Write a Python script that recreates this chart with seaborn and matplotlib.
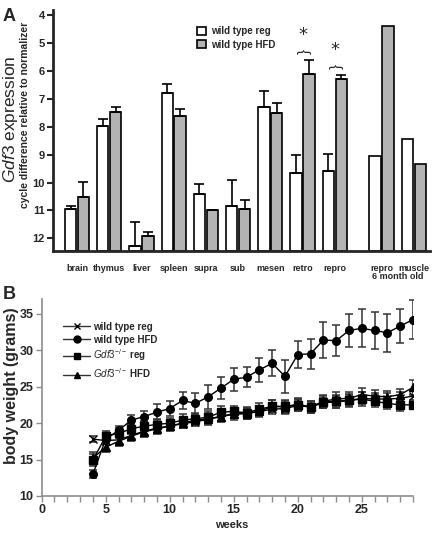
import numpy as np
import pandas as pd
import seaborn as sns
import matplotlib.pyplot as plt
from matplotlib.patches import Patch
from matplotlib.lines import Line2D
from matplotlib.ticker import MultipleLocator

# Panel A data: Gdf3 expression (cycle difference, lower = more expression)
tissues = ["brain", "thymus", "liver", "spleen", "supra", "sub", "mesen",
           "retro", "repro", "repro", "muscle"]
tissue_pos = [0, 1, 2, 3, 4, 5, 6, 7, 8, 9.45, 10.45]
reg = [10.93, 7.98, 12.27, 6.78, 10.40, 10.85, 7.28, 9.64, 9.57, 9.06, 8.45]
reg_err = [0.08, 0.25, 0.87, 0.33, 0.35, 0.95, 0.55, 0.64, 0.61, 0, 0]
hfd = [10.50, 7.48, 11.90, 7.60, 11.00, 10.93, 7.50, 6.10, 6.29, 4.39, 9.35]
hfd_err = [0.53, 0.18, 0.12, 0.25, 0.02, 0.29, 0.37, 0.50, 0.15, 0, 0]
signif = ["retro", "repro"]

# Panel B data: body weight (grams) by week
weeks = list(range(4, 30))
wt_reg = [17.8, 17.6, 17.7, 18.3, 18.9, 19.3, 19.6, 19.9, 20.2, 20.5, 20.9, 21.3, 21.4,
          21.6, 21.9, 22.0, 22.4, 22.2, 22.8, 22.9, 23.1, 23.4, 23.3, 23.3, 23.4, 23.7]
wt_reg_err = [0.4, 0.5, 0.6, 0.6, 0.6, 0.6, 0.6, 0.6, 0.6, 0.6, 0.6, 0.6, 0.6,
              0.6, 0.7, 0.7, 0.7, 0.7, 0.7, 0.8, 0.8, 0.8, 0.8, 0.8, 0.8, 0.8]
wt_hfd = [13.0, 17.8, 19.0, 20.4, 20.9, 21.5, 22.0, 23.1, 22.7, 23.6, 24.8, 26.0, 26.3,
          27.3, 28.2, 26.4, 29.4, 29.5, 31.4, 31.3, 32.7, 33.0, 32.7, 32.4, 33.3, 34.2]
wt_hfd_err = [0.6, 0.5, 0.6, 0.7, 0.8, 1.1, 1.0, 1.2, 1.4, 1.6, 1.5, 1.6, 1.4,
              1.6, 1.8, 2.3, 1.9, 2.1, 2.5, 2.1, 2.3, 2.6, 2.6, 2.6, 2.3, 2.7]
ko_reg = [14.9, 18.2, 18.6, 19.2, 19.6, 19.8, 20.0, 20.4, 20.6, 20.8, 21.5, 21.6, 21.4,
          21.9, 22.3, 22.3, 22.5, 22.2, 22.9, 23.0, 23.1, 23.3, 23.0, 22.7, 22.5, 22.5]
ko_reg_err = [0.8, 0.7, 0.7, 0.7, 0.7, 0.7, 0.7, 0.8, 0.8, 0.8, 0.8, 0.8, 0.8,
              0.8, 0.8, 0.8, 0.8, 0.8, 0.8, 0.9, 0.9, 0.9, 0.8, 0.8, 0.8, 0.6]
ko_hfd = [15.2, 16.7, 17.5, 18.2, 18.8, 19.2, 19.6, 20.0, 20.4, 20.6, 20.9, 21.2, 21.3,
          21.6, 22.3, 22.2, 22.6, 22.2, 23.0, 23.3, 23.4, 23.9, 23.7, 23.6, 23.9, 24.9]
ko_hfd_err = [0.8, 0.6, 0.6, 0.7, 0.7, 0.7, 0.7, 0.7, 0.7, 0.8, 0.8, 0.8, 0.8,
              0.8, 0.8, 0.8, 0.8, 0.8, 0.9, 0.9, 0.9, 0.9, 0.9, 0.8, 0.8, 1.0]

sns.set_theme(style="ticks")
plt.rcParams["font.family"] = ["Liberation Sans", "DejaVu Sans"]
plt.rcParams["mathtext.fontset"] = "custom"
plt.rcParams["mathtext.rm"] = "Liberation Sans"
plt.rcParams["mathtext.it"] = "Liberation Sans:italic"
plt.rcParams["mathtext.bf"] = "Liberation Sans:bold"

fig = plt.figure(figsize=(4.32, 5.39), dpi=100)

# ---------------- Panel A ----------------
axA = fig.add_axes([0.123, 0.534, 0.872, 0.447])
base = 12.46
dfA = pd.DataFrame({
    "pos": tissue_pos * 2,
    "value": reg + hfd,
    "diet": ["reg"] * len(reg) + ["HFD"] * len(hfd),
})
sns.barplot(data=dfA, x="pos", y="value", hue="diet", hue_order=["reg", "HFD"],
            palette={"reg": "white", "HFD": "#b3b3b3"}, native_scale=True,
            edgecolor="black", linewidth=1.2, gap=0.12, errorbar=None,
            legend=False, ax=axA)

# bars grow up from the bottom of the inverted axis
vals = reg + hfd
errs = reg_err + hfd_err
for p, v, e in zip(axA.patches, vals, errs):
    p.set_y(v)
    p.set_height(base - v)
    if e > 0:
        axA.errorbar(p.get_x() + p.get_width() / 2, v, yerr=[[e], [0]], color="black",
                     lw=1.2, capsize=3.5, capthick=1.2, zorder=1)

axA.set_ylim(base, 3.82)
axA.set_xlim(-0.74, 10.95)
axA.set_yticks(range(4, 13))
axA.set_xticks(tissue_pos)
axA.set_xticklabels(tissues, fontsize=6.5, fontweight="bold")
axA.tick_params(axis="x", length=0, pad=9)
axA.tick_params(axis="y", length=4, width=1.5, labelsize=8, pad=2)
for lab in axA.get_yticklabels():
    lab.set_fontweight("bold")
axA.set_xlabel("")
axA.set_ylabel("")
sns.despine(ax=axA)
axA.spines["left"].set_linewidth(2)
axA.spines["bottom"].set_linewidth(2)

# significance marks
for t in signif:
    i = tissues.index(t)
    top = hfd[i] - hfd_err[i]
    axA.text(tissue_pos[i], top - 0.3, "{", rotation=-90, ha="center", va="center",
             fontsize=10.5)
    axA.text(tissue_pos[i], top - 0.58, "*", ha="center", va="bottom", fontsize=13,
             family="DejaVu Sans")

axA.text((tissue_pos[-2] + tissue_pos[-1]) / 2, -0.105, "6 month old",
         transform=axA.get_xaxis_transform(), ha="center", va="center",
         fontsize=6.5, fontweight="bold")

axA.legend(handles=[Patch(facecolor="white", edgecolor="black", lw=1.2),
                    Patch(facecolor="#b3b3b3", edgecolor="black", lw=1.2)],
           labels=["wild type reg", "wild type HFD"], loc="upper left",
           bbox_to_anchor=(0.36, 0.97), frameon=False,
           prop={"size": 7, "weight": "bold"}, handlelength=0.9, handleheight=0.9,
           labelspacing=0.35, handletextpad=0.5)

fig.text(11 / 432, 1 - 119 / 539, r"$\mathit{Gdf3}$ expression", rotation=90,
         ha="center", va="center", fontsize=12.5)
fig.text(25.5 / 432, 1 - 115 / 539, "cycle difference relative to normalizer",
         rotation=90, ha="center", va="center", fontsize=7.5, fontweight="bold")
fig.text(0.007, 0.985, "A", ha="left", va="top", fontsize=13, fontweight="bold")

# ---------------- Panel B ----------------
axB = fig.add_axes([0.0965, 0.0798, 0.8595, 0.3652])
series = [
    ("wild type reg", wt_reg, wt_reg_err, "x"),
    ("wild type HFD", wt_hfd, wt_hfd_err, "o"),
    (r"$\mathit{Gdf3}^{-/-}$ reg", ko_reg, ko_reg_err, "s"),
    (r"$\mathit{Gdf3}^{-/-}$ HFD", ko_hfd, ko_hfd_err, "^"),
]
handles = []
for label, y, e, m in series:
    axB.errorbar(weeks, y, yerr=e, fmt="none", ecolor="#333333", elinewidth=1.1,
                 capsize=3, capthick=1.1, zorder=2)
    sns.lineplot(x=weeks, y=y, color="black", marker=m, markersize=5.5,
                 markeredgecolor="black", markeredgewidth=1, linewidth=1,
                 ax=axB, zorder=3)
    handles.append(Line2D([], [], color="#333333", lw=1, marker=m, markersize=5,
                          markerfacecolor="black", markeredgecolor="black"))

axB.legend(handles, [s[0] for s in series], loc="upper left",
           bbox_to_anchor=(0.035, 0.93), frameon=False,
           prop={"size": 7, "weight": "bold"}, handlelength=2.7,
           labelspacing=0.3, handletextpad=0.3)

axB.set_xlim(0, 29)
axB.set_ylim(10, 37)
axB.set_xticks(range(0, 30, 5))
axB.xaxis.set_minor_locator(MultipleLocator(1))
axB.set_yticks(range(10, 36, 5))
axB.tick_params(which="both", axis="x", length=4, width=1, color="#8c8c8c",
                labelsize=9, pad=2)
axB.tick_params(axis="y", length=4, width=1, color="#8c8c8c", labelsize=9, pad=2)
for lab in axB.get_xticklabels() + axB.get_yticklabels():
    lab.set_fontweight("bold")
sns.despine(ax=axB)
for s in ["left", "bottom"]:
    axB.spines[s].set_color("#8c8c8c")
    axB.spines[s].set_linewidth(1.2)
axB.set_xlabel("weeks", fontsize=8, fontweight="bold")
axB.set_ylabel("body weight (grams)", fontsize=11.5, fontweight="bold")
axB.xaxis.set_label_coords(0.513, -0.12)
axB.yaxis.set_label_coords(-0.06, 0.56)
fig.text(0.007, 1 - 286 / 539, "B", ha="left", va="top", fontsize=13, fontweight="bold")

fig.savefig("out.png", dpi=100)
